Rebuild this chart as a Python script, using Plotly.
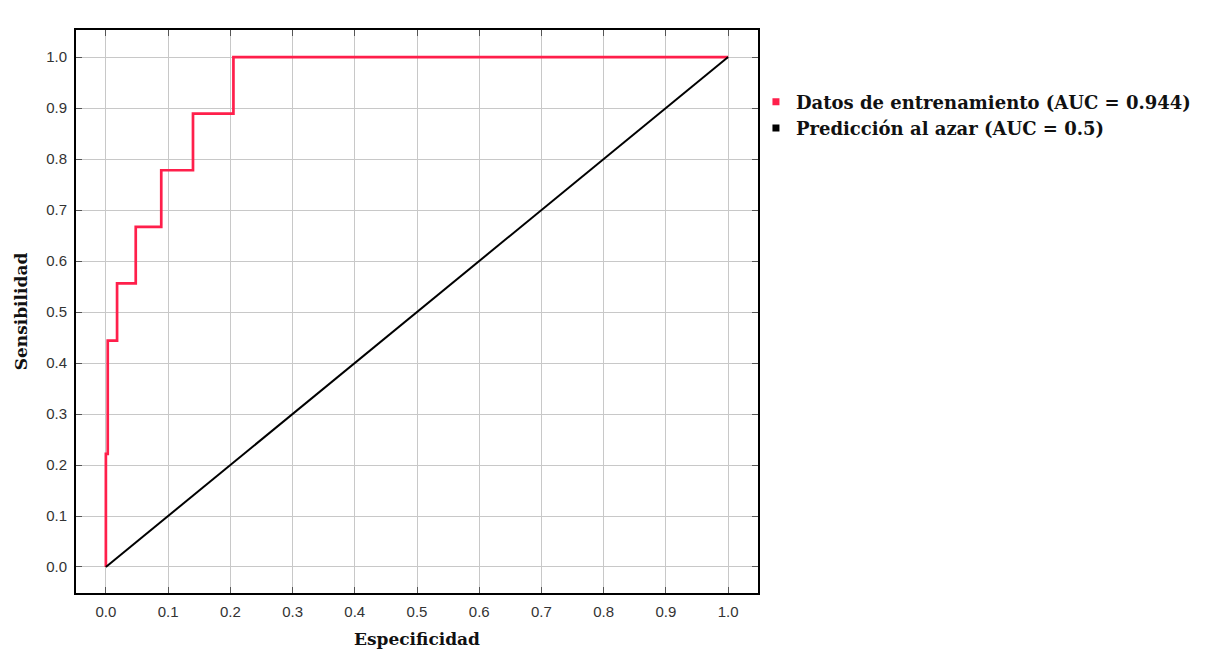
import plotly.graph_objects as go

# ROC curve (step points)
fpr = [0.0, 0.0, 0.003, 0.003, 0.018, 0.018, 0.048, 0.048, 0.089, 0.089, 0.140, 0.140, 0.205, 0.205, 1.0]
tpr = [0.0, 0.222, 0.222, 0.444, 0.444, 0.556, 0.556, 0.667, 0.667, 0.778, 0.778, 0.889, 0.889, 1.0, 1.0]
chance_x = [0.0, 1.0]
chance_y = [0.0, 1.0]
labels = ["Datos de entrenamiento (AUC = 0.944)", "Predicción al azar (AUC = 0.5)"]
ticks = [round(i * 0.1, 1) for i in range(11)]
tick_text = [f"{t:.1f}" for t in ticks]

RED = "#ff1f4b"
serif = "DejaVu Serif"

fig = go.Figure()
fig.add_trace(go.Scatter(x=fpr, y=tpr, mode="lines", line=dict(color=RED, width=2.7),
                         showlegend=False, hoverinfo="skip"))
fig.add_trace(go.Scatter(x=chance_x, y=chance_y, mode="lines", line=dict(color="black", width=2),
                         showlegend=False, hoverinfo="skip"))
# legend entries with square markers
fig.add_trace(go.Scatter(x=[None], y=[None], mode="markers", name=labels[0],
                         marker=dict(symbol="square", size=7, color=RED)))
fig.add_trace(go.Scatter(x=[None], y=[None], mode="markers", name=labels[1],
                         marker=dict(symbol="square", size=7, color="black")))

axis_common = dict(
    tickvals=ticks, ticktext=tick_text,
    showgrid=True, gridcolor="#c8c8c8", gridwidth=1,
    ticks="inside", ticklen=6, tickcolor="#555", tickwidth=1,
    showline=True, linecolor="black", linewidth=2, mirror="ticks",
    zeroline=False, ticklabelstandoff=4,
    tickfont=dict(family="Liberation Sans", size=15, color="#333"),
)

fig.update_layout(
    width=1212, height=653,
    margin=dict(l=62, r=462, t=22, b=68),
    paper_bgcolor="white", plot_bgcolor="white",
    xaxis=dict(**axis_common, range=[-0.048, 1.048],
               title=dict(text="<b>Especificidad</b>", standoff=14,
                          font=dict(family=serif, size=17, color="#111"))),
    yaxis=dict(**axis_common, range=[-0.051, 1.053],
               title=dict(text="<b>Sensibilidad</b>", standoff=14,
                          font=dict(family=serif, size=17, color="#111"))),
    legend=dict(x=0.997, y=0.905, xanchor="left", yanchor="top",
                font=dict(family=serif, size=18, color="#111", weight="bold"),
                itemwidth=30, tracegroupgap=4, bgcolor="rgba(0,0,0,0)"),
)

fig.write_html("out.html")
